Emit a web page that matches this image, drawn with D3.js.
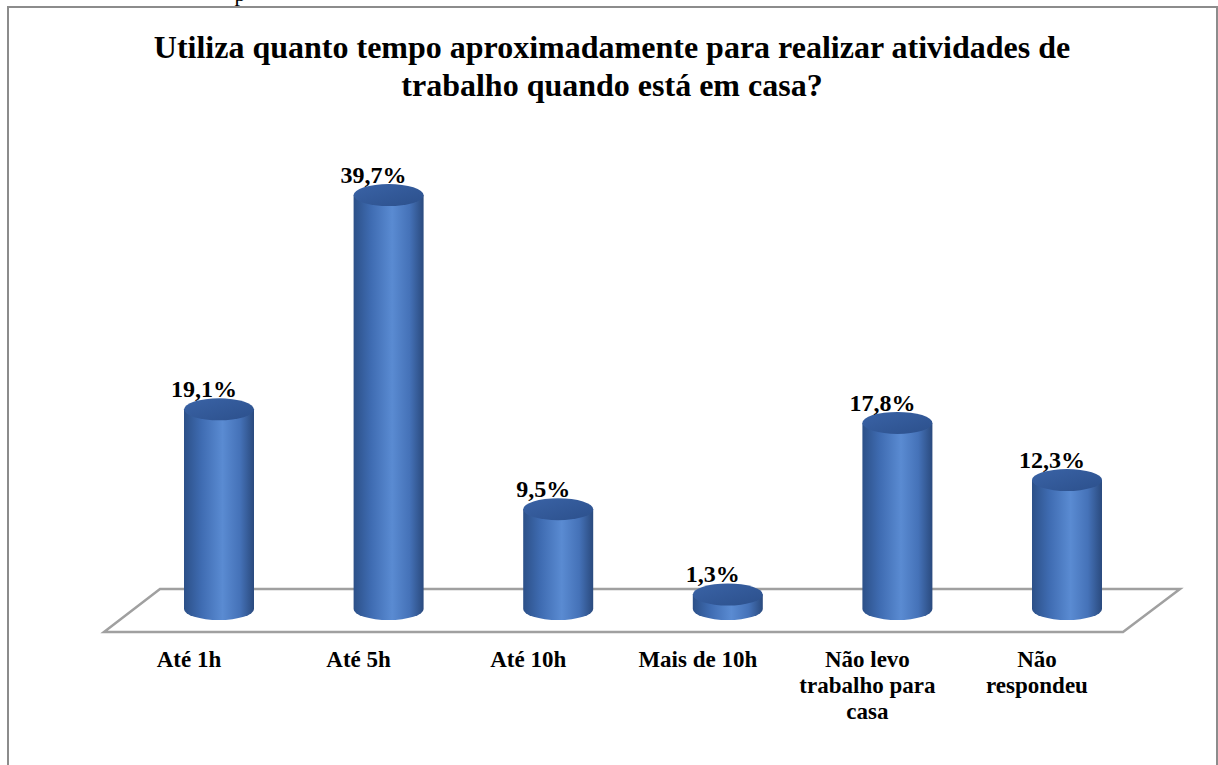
<!DOCTYPE html>
<html>
<head>
<meta charset="utf-8">
<script src="https://cdn.jsdelivr.net/npm/d3@7"></script>
<style>
  body { margin: 0; background: #fff; }
  text { font-family: "Liberation Serif", "Times New Roman", serif; font-weight: bold; fill: #000; }
</style>
</head>
<body>
<div id="chart"></div>
<script>
// values
var categories = ["Até 1h", "Até 5h", "Até 10h", "Mais de 10h", "Não levo|trabalho para|casa", "Não|respondeu"];
var values = [19.1, 39.7, 9.5, 1.3, 17.8, 12.3];
var valueLabels = ["19,1%", "39,7%", "9,5%", "1,3%", "17,8%", "12,3%"];
var titleLines = ["Utiliza quanto tempo aproximadamente para realizar atividades de", "trabalho quando está em casa?"];

var W = 1218, H = 765;
var svg = d3.select("#chart").append("svg")
    .attr("width", W).attr("height", H);

// gradients
var defs = svg.append("defs");
var g1 = defs.append("linearGradient").attr("id", "body").attr("x1", 0).attr("x2", 1).attr("y1", 0).attr("y2", 0);
[[0, "#2c5088"], [0.25, "#3f6cb2"], [0.55, "#5a8bd2"], [0.8, "#4572b8"], [1, "#2a4a7e"]].forEach(function(s) {
  g1.append("stop").attr("offset", s[0]).attr("stop-color", s[1]);
});
var g2 = defs.append("linearGradient").attr("id", "top").attr("x1", 0).attr("x2", 1).attr("y1", 0).attr("y2", 1);
[[0, "#3a63a6"], [1, "#2c508c"]].forEach(function(s) {
  g2.append("stop").attr("offset", s[0]).attr("stop-color", s[1]);
});

// outer frame (bottom cut off)
svg.append("path")
    .attr("d", "M8,765 L8,7 L1217,7 L1217,765")
    .attr("fill", "none").attr("stroke", "#8c8c8c").attr("stroke-width", 2);

// leftover glyph from text above the frame
svg.append("text").attr("x", 240).attr("y", 1).attr("text-anchor", "middle")
    .style("font-weight", "normal").style("font-size", "22px").text("p");

// title
svg.append("g").selectAll("text").data(titleLines).join("text")
    .attr("x", 612).attr("y", function(d, i) { return 58 + i * 38; })
    .attr("text-anchor", "middle").style("font-size", "32px")
    .text(function(d) { return d; });

var x = d3.scalePoint().domain(categories).range([219, 1067]);
var y = d3.scaleLinear().domain([0, 40]).range([608, 192]);
var rx = 35, ry = 11;

// floor
var base = y(0);
svg.append("path")
    .attr("d", "M160," + (base - 19) + " L1180," + (base - 19) + " L1123," + (base + 24) + " L104," + (base + 24) + " Z")
    .attr("fill", "#fff").attr("stroke", "#a0a0a0").attr("stroke-width", 2.5);

// cylinders
var bars = svg.append("g").selectAll("g").data(values).join("g");
bars.append("path")
    .attr("d", function(d, i) {
      var cx = x(categories[i]), t = y(d);
      return "M" + (cx - rx) + "," + t + " L" + (cx - rx) + "," + (base + 1) +
        " A" + rx + "," + ry + " 0 0 0 " + (cx + rx) + "," + (base + 1) +
        " L" + (cx + rx) + "," + t + " Z";
    })
    .attr("fill", "url(#body)");
bars.append("ellipse")
    .attr("cx", function(d, i) { return x(categories[i]); })
    .attr("cy", function(d) { return y(d); })
    .attr("rx", rx).attr("ry", ry)
    .attr("fill", "url(#top)");

// value labels
svg.append("g").selectAll("text").data(values).join("text")
    .attr("x", function(d, i) { return x(categories[i]) - 15; })
    .attr("y", function(d) { return y(d) - 12; })
    .attr("text-anchor", "middle").style("font-size", "24px")
    .text(function(d, i) { return valueLabels[i]; });

// category labels
var cat = svg.append("g").selectAll("text").data(categories).join("text")
    .attr("x", function(d) { return x(d) - 30; })
    .attr("y", 667)
    .attr("text-anchor", "middle").style("font-size", "23px");
cat.selectAll("tspan").data(function(d) { return d.split("|"); }).join("tspan")
    .attr("x", function() { return x(d3.select(this.parentNode).datum()) - 30; })
    .attr("dy", function(d, i) { return i ? 26 : 0; })
    .text(function(d) { return d; });
</script>
</body>
</html>
